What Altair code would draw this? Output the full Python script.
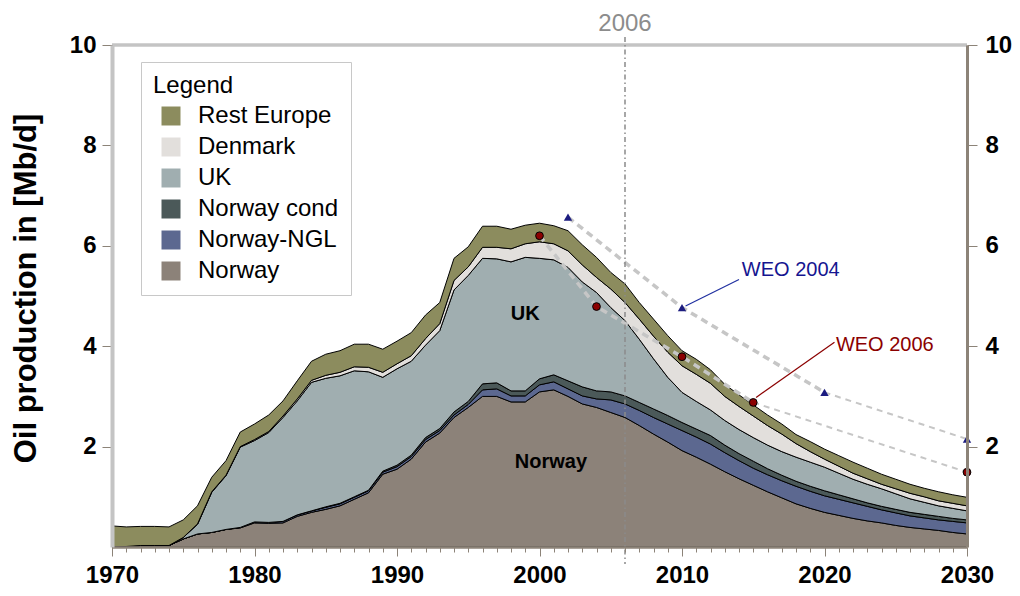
import altair as alt
import pandas as pd

years = list(range(1970, 2031))

norway = [0.00, 0.01, 0.03, 0.03, 0.03, 0.16, 0.26, 0.29, 0.35, 0.38,
          0.48, 0.47, 0.48, 0.61, 0.69, 0.75, 0.82, 0.95, 1.08, 1.45,
          1.55, 1.75, 2.09, 2.27, 2.58, 2.78, 3.00, 3.00, 2.89, 2.89,
          3.09, 3.13, 3.00, 2.85, 2.78, 2.68, 2.58, 2.42, 2.25, 2.09,
          1.92, 1.79, 1.65, 1.50, 1.36, 1.23, 1.10, 0.98, 0.86, 0.77,
          0.69, 0.63, 0.57, 0.52, 0.48, 0.43, 0.39, 0.36, 0.33, 0.29, 0.26]
norway_ngl = [0, 0, 0, 0, 0, 0, 0, 0, 0, 0.01,
              0.02, 0.02, 0.03, 0.03, 0.03, 0.04, 0.04, 0.04, 0.04, 0.04,
              0.05, 0.05, 0.05, 0.05, 0.05, 0.06, 0.13, 0.15, 0.12, 0.12,
              0.14, 0.16, 0.15, 0.16, 0.17, 0.25, 0.27, 0.30, 0.33, 0.36,
              0.40, 0.40, 0.40, 0.38, 0.36, 0.34, 0.34, 0.34, 0.35, 0.34,
              0.33, 0.32, 0.31, 0.29, 0.26, 0.25, 0.23, 0.22, 0.21, 0.22, 0.22]
norway_cond = [0, 0, 0, 0, 0, 0, 0, 0, 0, 0,
               0, 0, 0, 0, 0, 0.01, 0.01, 0.01, 0.01, 0.02,
               0.03, 0.03, 0.04, 0.04, 0.06, 0.06, 0.12, 0.12, 0.10, 0.10,
               0.12, 0.14, 0.16, 0.18, 0.16, 0.16, 0.16, 0.16, 0.17, 0.17,
               0.16, 0.16, 0.17, 0.15, 0.14, 0.14, 0.12, 0.11, 0.10, 0.10,
               0.10, 0.09, 0.08, 0.07, 0.07, 0.07, 0.07, 0.07, 0.07, 0.06, 0.06]
uk = [0, 0, 0, 0, 0, 0.03, 0.19, 0.80, 1.07, 1.60,
      1.62, 1.79, 2.07, 2.27, 2.56, 2.56, 2.54, 2.51, 2.36, 1.87,
      1.92, 1.87, 1.84, 1.95, 2.43, 2.51, 2.50, 2.47, 2.57, 2.66,
      2.40, 2.29, 2.26, 2.09, 1.96, 1.68, 1.50, 1.26, 1.00, 0.76,
      0.60, 0.55, 0.51, 0.49, 0.48, 0.47, 0.47, 0.47, 0.48, 0.48,
      0.47, 0.43, 0.39, 0.37, 0.35, 0.31, 0.27, 0.24, 0.21, 0.20, 0.18]
denmark = [0, 0, 0, 0, 0, 0, 0.01, 0.01, 0.01, 0.01,
           0.02, 0.02, 0.03, 0.04, 0.04, 0.06, 0.07, 0.08, 0.09, 0.10,
           0.10, 0.11, 0.13, 0.14, 0.19, 0.17, 0.22, 0.23, 0.26, 0.27,
           0.33, 0.32, 0.33, 0.34, 0.30, 0.37, 0.36, 0.40, 0.45, 0.50,
           0.53, 0.54, 0.53, 0.48, 0.46, 0.43, 0.39, 0.35, 0.27, 0.21,
           0.16, 0.14, 0.12, 0.11, 0.09, 0.10, 0.11, 0.11, 0.10, 0.10, 0.10]
rest_europe = [0.42, 0.39, 0.38, 0.38, 0.37, 0.35, 0.36, 0.29, 0.29, 0.29,
               0.31, 0.33, 0.30, 0.36, 0.38, 0.42, 0.43, 0.45, 0.46, 0.46,
               0.45, 0.46, 0.47, 0.42, 0.44, 0.40, 0.42, 0.42, 0.39, 0.37,
               0.37, 0.36, 0.40, 0.40, 0.40, 0.33, 0.37, 0.33, 0.34, 0.33,
               0.30, 0.30, 0.27, 0.24, 0.23, 0.22, 0.21, 0.20, 0.18, 0.20,
               0.20, 0.21, 0.22, 0.21, 0.20, 0.19, 0.18, 0.17, 0.18, 0.17, 0.17]

stack_names = ["Norway", "Norway-NGL", "Norway cond", "UK", "Denmark", "Rest Europe"]
stack_values = [norway, norway_ngl, norway_cond, uk, denmark, rest_europe]
legend_order = ["Rest Europe", "Denmark", "UK", "Norway cond", "Norway-NGL", "Norway"]
legend_colors = ["#8c8c5e", "#e2dfdc", "#a0aeb0", "#4b5959", "#5c6890", "#8c8279"]

weo2004_years = [2002, 2010, 2020, 2030]
weo2004_values = [6.57, 4.77, 3.08, 2.15]
weo2006_years = [2000, 2004, 2010, 2015, 2030]
weo2006_values = [6.20, 4.79, 3.79, 2.88, 1.49]

FONT = "Liberation Sans"
AXC = "#8c8378"

rows = []
for k, (name, vals) in enumerate(zip(stack_names, stack_values)):
    for yr, v in zip(years, vals):
        rows.append({"year": yr, "series": name, "value": v, "order": k})
df = pd.DataFrame(rows)

xscale = alt.Scale(domain=[1970, 2030], nice=False, zero=False)
yscale = alt.Scale(domain=[0, 10], nice=False)

xaxis = alt.Axis(
    values=years, title=None, grid=False,
    labelExpr="datum.value % 10 === 0 ? datum.value : ''",
    labelFlush=False, labelOverlap=False,
    labelFont=FONT, labelFontSize=24, labelFontWeight="bold", labelColor="black",
    labelPadding=7,
    tickSize={"condition": {"test": "datum.value % 10 === 0", "value": 9}, "value": 5},
    tickColor=AXC, domainColor=AXC, domainWidth=2.5, zindex=1,
)
left_axis = alt.Axis(
    values=[2, 4, 6, 8, 10], title="Oil production in [Mb/d]", grid=False,
    labelFont=FONT, labelFontSize=24, labelFontWeight="bold", labelColor="black",
    labelPadding=6, tickSize=10, tickColor=AXC,
    domainColor="#c4c4c4", domainWidth=4, zindex=1,
    titleFont=FONT, titleFontSize=31, titleFontWeight="bold", titleColor="black",
    titleX=-86, titleY=243, titleAngle=-90, titleAlign="center", titleBaseline="middle",
)
right_axis = alt.Axis(
    values=[2, 4, 6, 8, 10], title=None, grid=False, orient="right",
    labelFont=FONT, labelFontSize=24, labelFontWeight="bold", labelColor="black",
    labelPadding=8, tickSize=10, tickColor=AXC,
    domainColor=AXC, domainWidth=3, zindex=1,
)

X = alt.X("year:Q", scale=xscale, axis=xaxis)

areas = alt.Chart(df).mark_area(stroke="black", strokeWidth=1, strokeJoin="round").encode(
    x=X,
    y=alt.Y("value:Q", stack="zero", scale=yscale, axis=left_axis),
    color=alt.Color("series:N",
                    scale=alt.Scale(domain=legend_order, range=legend_colors),
                    legend=alt.Legend(title="Legend")),
    order=alt.Order("order:Q", sort="ascending"),
)

top_df = pd.DataFrame({"v": [10]})
top_rule = alt.Chart(top_df).mark_rule(color="#c4c4c4", strokeWidth=3.5).encode(
    y=alt.Y("v:Q", scale=yscale, axis=right_axis)
)

w04 = pd.DataFrame({"year": weo2004_years, "value": weo2004_values})
w06 = pd.DataFrame({"year": weo2006_years, "value": weo2006_values})

def dash_line(d, width, dash):
    return alt.Chart(d).mark_line(color="#c6c6c6", strokeWidth=width, strokeDash=dash).encode(
        x=X, y=alt.Y("value:Q", scale=yscale, axis=None)
    )

lines = [
    dash_line(w04.iloc[:3], 3.5, [7, 5]),
    dash_line(w04.iloc[2:], 2, [6, 5]),
    dash_line(w06.iloc[:4], 3.5, [7, 5]),
    dash_line(w06.iloc[3:], 2, [6, 5]),
]

tri = alt.Chart(w04).mark_point(shape="triangle-up", filled=True, color="#1c1c80", size=70, opacity=1).encode(
    x=X, y=alt.Y("value:Q", scale=yscale, axis=None)
)
circ = alt.Chart(w06).mark_point(shape="circle", filled=True, fill="#8b0000", stroke="black",
                                 strokeWidth=1, size=60, opacity=1).encode(
    x=X, y=alt.Y("value:Q", scale=yscale, axis=None)
)

# 2006 marker
y2006 = pd.DataFrame({"year": [2006], "label": ["2006"]})
vline = alt.Chart(y2006).mark_rule(color="#8a8a8a", strokeWidth=1.5, strokeDash=[5, 3, 1.5, 3]).encode(
    x=X, y=alt.value(-8), y2=alt.value(519)
)
vtext = alt.Chart(y2006).mark_text(font=FONT, fontSize=24, color="#8c8c8c", baseline="middle").encode(
    x=X, y=alt.value(-21), text="label:N"
)

# annotations
ann = pd.DataFrame({
    "year": [2014.2, 2020.8], "value": [5.52, 4.02],
    "label": ["WEO 2004", "WEO 2006"], "col": ["#151590", "#8b0000"],
})
ann_text = alt.Chart(ann).mark_text(font=FONT, fontSize=20, align="left", baseline="middle").encode(
    x=X, y=alt.Y("value:Q", scale=yscale, axis=None), text="label:N",
    color=alt.Color("col:N", scale=None, legend=None),
)
lead = pd.DataFrame({
    "year": [2014.0, 2020.7], "value": [5.33, 4.08],
    "year2": [2010.25, 2015.2], "value2": [4.80, 2.98],
    "col": ["#2030a0", "#8b0000"],
})
lead_rule = alt.Chart(lead).mark_rule(strokeWidth=1.2).encode(
    x=X, y=alt.Y("value:Q", scale=yscale, axis=None),
    x2="year2:Q", y2="value2:Q",
    color=alt.Color("col:N", scale=None, legend=None),
)

inner = pd.DataFrame({"year": [1999.0, 2000.8], "value": [4.64, 1.69], "label": ["UK", "Norway"]})
inner_text = alt.Chart(inner).mark_text(font=FONT, fontSize=20, fontWeight="bold", color="black",
                                        baseline="middle").encode(
    x=X, y=alt.Y("value:Q", scale=yscale, axis=None), text="label:N"
)

chart = alt.layer(
    areas, top_rule, *lines, vline, vtext, lead_rule, tri, circ, ann_text, inner_text
).resolve_axis(y="independent").resolve_scale(color="independent").properties(
    width=855, height=502,
    autosize=alt.AutoSizeParams(type="none"),
    padding={"left": 104, "top": 37, "right": 45, "bottom": 41},
    background="white",
).configure_view(stroke=None).configure_legend(
    orient="none", legendX=29, legendY=17, direction="vertical",
    fillColor="white", strokeColor="#c8c8c8", padding=12,
    titleFont=FONT, titleFontSize=24, titleFontWeight="normal", titleColor="black", titlePadding=6,
    labelFont=FONT, labelFontSize=24, labelColor="black", labelOffset=15,
    symbolType="square", symbolSize=361, symbolStrokeWidth=0, symbolOffset=6, rowPadding=7,
    symbolOpacity=1,
)

chart.save("out.html", embed_options={"renderer": "svg", "actions": False})
